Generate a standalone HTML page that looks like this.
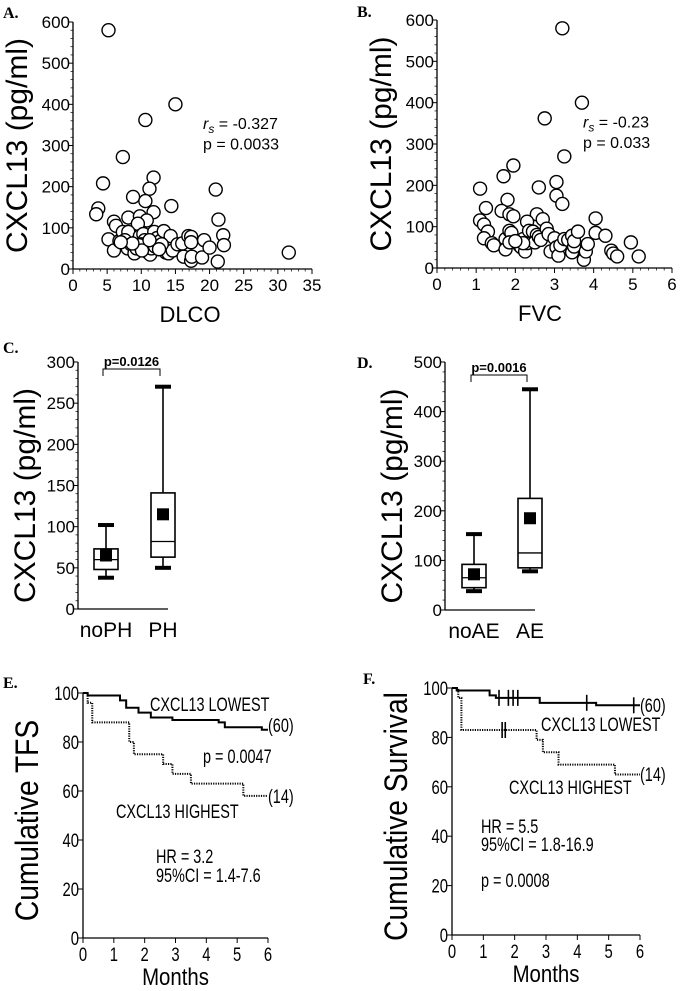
<!DOCTYPE html>
<html><head><meta charset="utf-8"><style>
body{margin:0;background:#fff}
svg{display:block;font-family:"Liberation Sans",sans-serif}
.t{font-size:17px}
.big{font-size:30px}
.pl{font-family:"Liberation Serif",serif;font-weight:bold;font-size:16px}
</style></head><body>
<svg id="fig" width="680" height="991" viewBox="0 0 680 991" xmlns="http://www.w3.org/2000/svg">
<g id="root"></g>
</svg>
<script>
// ---------- DATA ----------
const dlcoX=[5.2,15,10.6,7.3,4.4,11.8,11.2,20.9,8.8,10.6,3.7,3.4,14.4,11.8,21.3,8.1,9.8,6,6.3,10.8,9.5,22,5.2,6,6.8,7.3,8.1,7.6,8,8.5,9,9.3,9.8,10.3,10.5,10.7,11,11.3,11.5,11.9,12.3,12.8,13.3,13.6,14,14.3,14.6,15.3,16,16.2,16.9,17.3,17.3,17.3,17.4,18.9,19.2,20,21.2,22.1,31.6,10,12,13,9.7,10.1,12.6,8.7,7,11.2];
const dlcoY=[580,400,362,272,208,222,195,193,175,165,147,133,153,138,120,125,128,115,105,118,110,82,72,45,68,90,90,70,50,60,38,50,80,85,70,55,40,35,50,90,75,68,92,40,38,80,45,60,62,30,80,78,65,20,30,28,70,52,18,58,40,60,55,60,58,45,48,62,65,70];
const fvcX=[3.2,3.7,2.75,3.25,1.95,1.7,1.1,2.6,3.05,3.05,3.2,1.8,1.25,1.65,1.85,1.95,2.55,2.7,2.3,1.1,1.2,1.3,1.2,1.4,1.45,1.75,1.75,1.85,1.9,1.85,2.1,2.15,2.2,2.25,2.3,2.35,2.45,2.55,2.5,2.6,2.65,2.8,2.85,2.9,3.0,3.05,3.1,3.15,3.25,3.35,3.45,3.45,3.5,3.5,3.6,3.75,3.8,3.85,4.05,4.05,4.3,4.45,4.5,4.6,4.95,5.15,2.2,2.0];
const fvcY=[580,400,362,270,248,222,192,195,208,175,155,165,145,138,130,125,130,118,112,115,105,88,72,60,55,70,45,90,85,62,55,50,70,40,60,90,88,80,62,75,68,95,82,40,72,50,30,55,70,68,78,38,52,65,88,20,40,58,120,85,78,42,35,28,62,28,60,65];
const phCats=["noPH","PH"];
const phStats=[[38,48,60,73,102,65],[50,63,82,141,270,115]]; // min,q1,median,q3,max,mean
const aeCats=["noAE","AE"];
const aeStats=[[38,45,65,92,153,72],[78,85,115,225,445,185]];
const tfsLowT=[0,0.15,1.2,1.4,1.8,2.2,2.9,4.4,4.6,5.8,6];
const tfsLowS=[100,99,97,94,92,90,89,88,86,85,85];
const tfsHighT=[0,0.15,0.3,1.5,1.65,2.6,2.9,3.5,5.2,6];
const tfsHighS=[100,96,88,80,75,71,67,63,58,58];
const osLowT=[0,0.15,1.2,1.4,2.8,4.6,6];
const osLowS=[100,99,97,96,94,93,93];
const osLowCens=[1.5,1.8,1.95,2.1,4.3,5.8];
const osHighT=[0,0.2,0.3,2.7,2.9,3.4,5.2,6];
const osHighS=[100,96,83,79,74,69,65,65];
const osHighCens=[1.6,1.7];
const monthTicks=[0,1,2,3,4,5,6];
const pctTicks=[0,20,40,60,80,100];

const NS="http://www.w3.org/2000/svg";
const root=document.getElementById('root');
function el(tag,attrs,parent,txt){const e=document.createElementNS(NS,tag);for(const k in attrs)e.setAttribute(k,attrs[k]);if(txt!==undefined)e.textContent=txt;(parent||root).appendChild(e);return e;}
function lin(d0,d1,r0,r1){return v=>r0+(v-d0)/(d1-d0)*(r1-r0);}

function axes(g,x0,x1,y0,y1,sy,yTicks,minor,sx,xTicks,narrow){
  el('line',{x1:x0,y1:y0,x2:x0,y2:y1,stroke:'#000','stroke-width':1.3},g);
  el('line',{x1:x0,y1:y0,x2:x1,y2:y0,stroke:'#000','stroke-width':1.3},g);
  yTicks.forEach(v=>{const y=sy(v);el('line',{x1:x0-5,y1:y,x2:x0,y2:y,stroke:'#000'},g);
    const t=narrow?el('text',{x:0,y:0,'text-anchor':'end',style:'font-size:19px',transform:`translate(${x0-4},${y+7}) scale(0.78,1)`},g,String(v))
                  :el('text',{x:x0-3,y:y+6,'text-anchor':'end',class:'t'},g,String(v));
    });
  if(minor){for(let i=0;i<yTicks.length-1;i++){const a=yTicks[i],b=yTicks[i+1];for(let k=1;k<minor;k++){const y=sy(a+(b-a)*k/minor);el('line',{x1:x0-2.5,y1:y,x2:x0,y2:y,stroke:'#000','stroke-width':0.7},g);}}}
  if(sx){xTicks.forEach(v=>{const x=sx(v);el('line',{x1:x,y1:y0,x2:x,y2:y0+5,stroke:'#000'},g);
    const t=narrow?el('text',{x:0,y:0,'text-anchor':'middle',style:'font-size:19px',transform:`translate(${x},${y0+23}) scale(0.78,1)`},g,String(v))
                  :el('text',{x:x,y:y0+22,'text-anchor':'middle',class:'t'},g,String(v));
    });}
}

function scatter(name,X,Y,x0,x1,xmax,xTicks,y0,y1,letter,lx,ly,xlabel,xlx,rsTxt,rsx,pTxt){
  const g=el('g',{});  
  const sx=lin(0,xmax,x0,x1), sy=lin(0,600,y0,y1);
  axes(g,x0,x1,y0,y1,sy,[0,100,200,300,400,500,600],5,sx,xTicks);
  for(let i=0;i<xTicks.length-1;i++){for(let k=1;k<5;k++){const x=sx(xTicks[i]+(xTicks[i+1]-xTicks[i])*k/5);el('line',{x1:x,y1:y0,x2:x,y2:y0+2.5,stroke:'#000','stroke-width':0.7},g);}}
  X.forEach((v,i)=>{const c=el('circle',{cx:sx(v),cy:sy(Y[i]),r:6.5,fill:'#fff',stroke:'#000','stroke-width':1.4},g);
    });
  el('text',{x:lx,y:ly,class:'pl'},g,letter);
  const yt=el('text',{x:0,y:0,class:'big','text-anchor':'middle',transform:`translate(${x0-46},${(y0+y1)/2}) rotate(-90)`},g,'CXCL13 (pg/ml)');
  
  const xt=el('text',{x:xlx,y:y0+53,'text-anchor':'middle',style:'font-size:22px'},g,xlabel);
  
  const r=el('text',{x:rsx,y:sy(340),style:'font-size:16px'},g);
  
  el('tspan',{style:'font-style:italic'},r,'r'); el('tspan',{dy:4,style:'font-style:italic;font-size:12px'},r,'s');
  el('tspan',{dy:-4},r,' = '+rsTxt);
  const p=el('text',{x:rsx,y:sy(290),style:'font-size:16px'},g,'p = '+pTxt);
  
}
scatter('scatter-dlco',dlcoX,dlcoY,73,312,35,[0,5,10,15,20,25,30,35],269,22,'A.',3,18,'DLCO',190,'-0.327',203,'0.0033');
scatter('scatter-fvc',fvcX,fvcY,437,672,6,[0,1,2,3,4,5,6],268,20,'B.',357,17,'FVC',540,'-0.23',583,'0.033');

function boxplot(name,cats,stats,x0,x1,y0,y1,ymax,yTicks,centers,letter,lx,ly,pTxt,brY){
  const g=el('g',{});  
  const sy=lin(0,ymax,y0,y1);
  axes(g,x0,x1,y0,y1,sy,yTicks,5);
  cats.forEach((c,i)=>{const cx=centers[i],s=stats[i];const bg=el('g',{},g);
    
    el('line',{x1:cx,y1:sy(s[0]),x2:cx,y2:sy(s[4]),stroke:'#000','stroke-width':1.6},bg);
    el('line',{x1:cx-8,y1:sy(s[0]),x2:cx+8,y2:sy(s[0]),stroke:'#000','stroke-width':4},bg);
    el('line',{x1:cx-8,y1:sy(s[4]),x2:cx+8,y2:sy(s[4]),stroke:'#000','stroke-width':4},bg);
    el('rect',{x:cx-12,y:sy(s[3]),width:24,height:sy(s[1])-sy(s[3]),fill:'#fff',stroke:'#000','stroke-width':1.6},bg);
    el('line',{x1:cx-12,y1:sy(s[2]),x2:cx+12,y2:sy(s[2]),stroke:'#000','stroke-width':1.3},bg);
    el('rect',{x:cx-6,y:sy(s[5])-6,width:12,height:12,fill:'#000'},bg);
    const t=el('text',{x:cx,y:y0+28,'text-anchor':'middle',style:'font-size:21px'},g,c);
    
  });
  el('text',{x:lx,y:ly,class:'pl'},g,letter);
  const yt=el('text',{x:0,y:0,class:'big','text-anchor':'middle',transform:`translate(${x0-43},${(y0+y1)/2+10}) rotate(-90)`},g,'CXCL13 (pg/ml)');
  
  el('path',{d:`M${centers[0]-3},${brY+7}V${brY}H${centers[1]-3}V${brY+7}`,fill:'none',stroke:'#000','stroke-width':1},g);
  const p=el('text',{x:(centers[0]+centers[1])/2-3,y:brY-3,'text-anchor':'middle',style:'font-size:13px;font-weight:bold'},g,pTxt);
  
}
boxplot('boxplot-ph',phCats,phStats,78,168,609,362,300,[0,50,100,150,200,250,300],[106,163],'C.',3,353,'p=0.0126',369);
boxplot('boxplot-ae',aeCats,aeStats,445,535,610,362,500,[0,100,200,300,400,500],[474,530],'D.',357,368,'p=0.0016',375);

function stepPath(sx,sy,T,S){let d=`M${sx(T[0])},${sy(S[0])}`;for(let i=1;i<T.length;i++){d+=`H${sx(T[i])}V${sy(S[i])}`;}return d;}
function survAt(T,S,t){let v=S[0];for(let i=0;i<T.length;i++){if(T[i]<=t)v=S[i];}return v;}
function km(name,x0,x1,y0,y1,lowT,lowS,highT,highS,lowC,highC,letter,lx,ly,title,labels){
  const g=el('g',{});  
  const sx=lin(0,6,x0,x1), sy=lin(0,100,y0,y1);
  axes(g,x0,x1,y0,y1,sy,pctTicks,0,sx,monthTicks,true);
  const l=el('path',{d:stepPath(sx,sy,lowT,lowS),fill:'none',stroke:'#000','stroke-width':2},g);
  
  const h=el('path',{d:stepPath(sx,sy,highT,highS),fill:'none',stroke:'#000','stroke-width':2,'stroke-dasharray':'1.2,1.2'},g);
  
  (lowC||[]).forEach(t=>{const y=sy(survAt(lowT,lowS,t));const m=el('line',{x1:sx(t),y1:y-8,x2:sx(t),y2:y+8,stroke:'#000','stroke-width':1.6},g);});
  (highC||[]).forEach(t=>{const y=sy(survAt(highT,highS,t));const m=el('line',{x1:sx(t),y1:y-8,x2:sx(t),y2:y+8,stroke:'#000','stroke-width':1.6},g);});
  el('text',{x:lx,y:ly,class:'pl'},g,letter);
  const yt=el('text',{x:0,y:0,'text-anchor':'middle',style:'font-size:32px',transform:`translate(${x0-45},${(y0+y1)/2+5}) rotate(-90) scale(0.88,1)`},g,title);
  
  const xt=el('text',{x:0,y:0,'text-anchor':'middle',style:'font-size:24px',transform:`translate(${(x0+x1)/2},${y0+47}) scale(0.85,1)`},g,'Months');
  
  labels.forEach(L=>{const t=el('text',{x:0,y:0,style:'font-size:19px',transform:`translate(${L[0]},${L[1]}) scale(0.76,1)`},g,L[2]);
    });
}
km('km-tfs',83,268,938,693,tfsLowT,tfsLowS,tfsHighT,tfsHighS,null,null,'E.',3,688,'Cumulative TFS',
 [[150,711,'CXCL13 LOWEST','lowest-label'],[268,732,'(60)','n-lowest'],[203,763,'p = 0.0047','p-value-label'],[268,803,'(14)','n-highest'],[116,818,'CXCL13 HIGHEST','highest-label'],[156,863,'HR = 3.2','hr-label'],[156,882,'95%CI = 1.4-7.6','ci-label']]);
km('km-survival',452,640,935,688,osLowT,osLowS,osHighT,osHighS,osLowCens,osHighCens,'F.',363,684,'Cumulative Survival',
 [[640,712,'(60)','n-lowest'],[541,731,'CXCL13 LOWEST','lowest-label'],[640,781,'(14)','n-highest'],[509,794,'CXCL13 HIGHEST','highest-label'],[481,833,'HR = 5.5','hr-label'],[481,851,'95%CI = 1.8-16.9','ci-label'],[481,887,'p = 0.0008','p-value-label']]);
</script>
</body></html>
